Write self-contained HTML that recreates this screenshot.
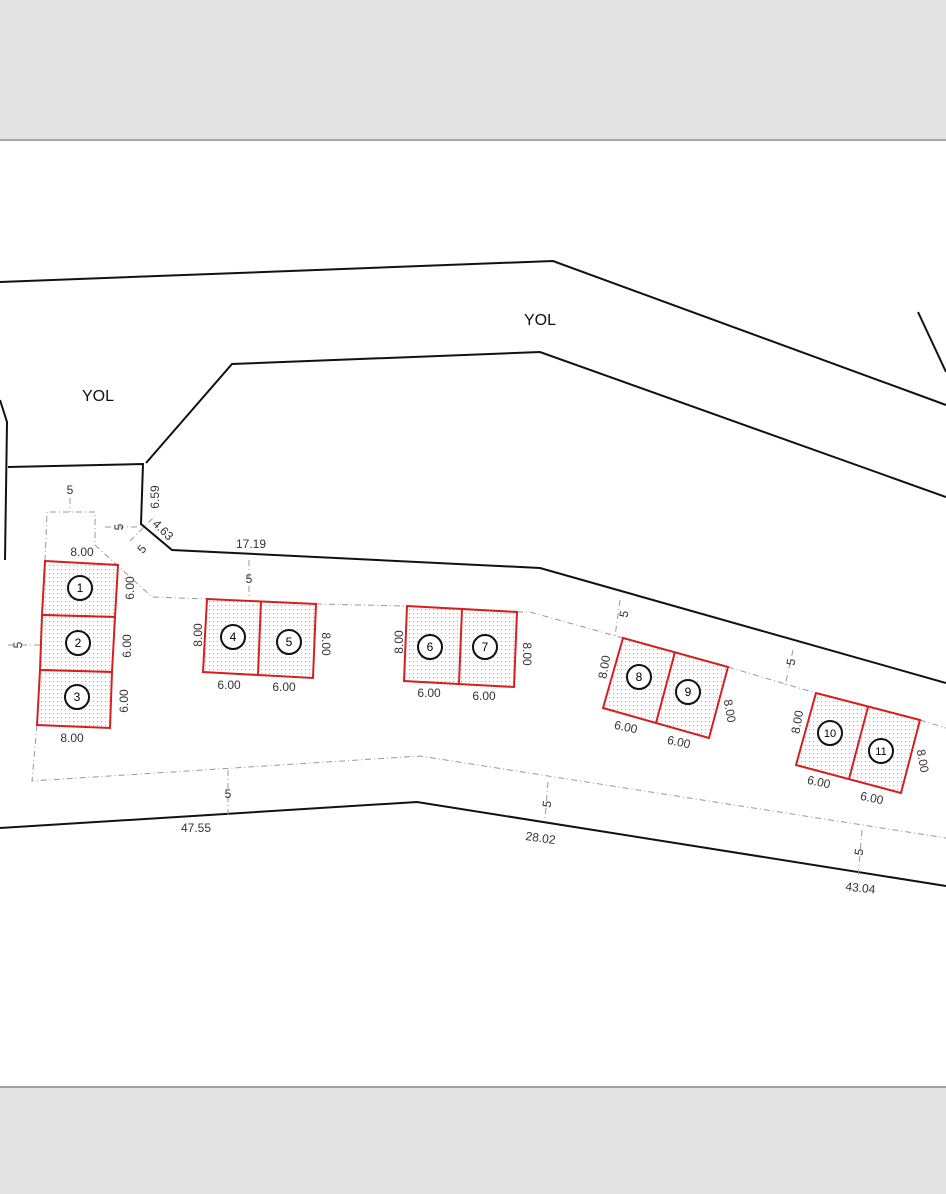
<!DOCTYPE html>
<html><head><meta charset="utf-8"><style>
html,body{margin:0;padding:0;background:#fff}
svg{display:block}
text{font-family:"Liberation Sans",sans-serif;fill:#333}
</style></head><body>
<svg width="946" height="1194" viewBox="0 0 946 1194" xmlns="http://www.w3.org/2000/svg">
<defs>
<pattern id="dots" width="4" height="4" patternUnits="userSpaceOnUse">
<rect width="4" height="4" fill="#fff"/>
<rect x="1" y="1" width="1" height="1" fill="#aaa"/>
</pattern>
</defs>
<rect x="0" y="0" width="946" height="140" fill="#e3e3e3"/>
<rect x="0" y="139" width="946" height="2" fill="#a8a8a8"/>
<rect x="0" y="1087" width="946" height="107" fill="#e3e3e3"/>
<rect x="0" y="1086" width="946" height="2" fill="#a0a0a0"/>

<g fill="none" stroke="#111" stroke-width="2">
<polyline points="0,282 553,261 946,405"/>
<polyline points="146,463 232,364 540,352 946,497"/>
<polyline points="0,400 7,422 5,560"/>
<polyline points="8,467 143,464 141,524 172,550 540,568 946,683"/>
<polyline points="0,828 417,802 946,886"/>
<polyline points="918,312 946,372"/>
</g>

<g fill="none" stroke="#999" stroke-width="1" stroke-dasharray="6,3,1,3">
<polyline points="45,561 47,512 95,512 95,545 152,597 207,599"/>
<line x1="316" y1="604" x2="407" y2="606"/>
<polyline points="517,612 530,612 623,638"/>
<line x1="728" y1="667" x2="816" y2="693"/>
<line x1="920" y1="720" x2="946" y2="728"/>
<polyline points="37,725 32,781 420,756 946,838"/>
<line x1="130" y1="541" x2="155" y2="516"/>
<line x1="105" y1="527" x2="140" y2="527"/>
<line x1="70" y1="498" x2="70" y2="512"/>
<line x1="249" y1="560" x2="249" y2="598"/>
<line x1="228" y1="770" x2="228" y2="815"/>
<line x1="548" y1="782" x2="545" y2="820"/>
<line x1="620" y1="600" x2="615" y2="636"/>
<line x1="793" y1="650" x2="785" y2="686"/>
<line x1="862" y1="830" x2="858" y2="878"/>
<line x1="8" y1="645" x2="40" y2="645"/>
</g>

<g fill="url(#dots)" stroke="#d42020" stroke-width="2">
<polygon points="45,561 118,565 115,617 42,615"/>
<polygon points="42,615 115,617 112,672 40,670"/>
<polygon points="40,670 112,672 110,728 37,725"/>
<polygon points="207,599 316,604 313,678 203,672"/>
<polygon points="407,606 517,612 514,687 404,681"/>
<polygon points="623,638 728,667 709,738 603,708"/>
<polygon points="816,693 920,720 901,793 796,765"/>
</g>
<g stroke="#d42020" stroke-width="2">
<line x1="261" y1="601" x2="258" y2="675"/>
<line x1="462" y1="609" x2="459" y2="684"/>
<line x1="675" y1="652" x2="656" y2="723"/>
<line x1="868" y1="707" x2="849" y2="779"/>
</g>

<g fill="#fff" stroke="#111" stroke-width="2">
<circle cx="80" cy="588" r="12"/><circle cx="78" cy="643" r="12"/><circle cx="77" cy="697" r="12"/>
<circle cx="233" cy="637" r="12"/><circle cx="289" cy="642" r="12"/>
<circle cx="430" cy="647" r="12"/><circle cx="485" cy="647" r="12"/>
<circle cx="639" cy="677" r="12"/><circle cx="688" cy="692" r="12"/>
<circle cx="830" cy="733" r="12"/><circle cx="881" cy="751" r="12"/>
</g>
<g font-size="12" text-anchor="middle" style="fill:#000">
<text x="80" y="592" style="fill:#000">1</text><text x="78" y="647" style="fill:#000">2</text><text x="77" y="701" style="fill:#000">3</text>
<text x="233" y="641" style="fill:#000">4</text><text x="289" y="646" style="fill:#000">5</text>
<text x="430" y="651" style="fill:#000">6</text><text x="485" y="651" style="fill:#000">7</text>
<text x="639" y="681" style="fill:#000">8</text><text x="688" y="696" style="fill:#000">9</text>
<text x="830" y="737" font-size="11" style="fill:#000">10</text><text x="881" y="755" font-size="11" style="fill:#000">11</text>
</g>

<g font-size="16" text-anchor="middle">
<text x="98" y="401" style="fill:#111">YOL</text>
<text x="540" y="325" style="fill:#111">YOL</text>
</g>

<g font-size="12" text-anchor="middle">
<text x="70" y="494">5</text>
<text x="82" y="556">8.00</text>
<text x="72" y="742">8.00</text>
<text x="251" y="548">17.19</text>
<text x="249" y="583">5</text>
<text x="229" y="689">6.00</text>
<text x="284" y="691">6.00</text>
<text x="429" y="697">6.00</text>
<text x="484" y="700">6.00</text>
<text x="228" y="798">5</text>
<text x="196" y="832">47.55</text>
<text x="540" y="842" transform="rotate(8 540 842)">28.02</text>
<text x="860" y="892" transform="rotate(6 860 892)">43.04</text>
<text x="625" y="731" transform="rotate(12 625 731)">6.00</text>
<text x="678" y="746" transform="rotate(12 678 746)">6.00</text>
<text x="818" y="786" transform="rotate(12 818 786)">6.00</text>
<text x="871" y="802" transform="rotate(12 871 802)">6.00</text>
<text x="150" y="496" transform="rotate(-90 155 492)">6.59</text>
<text x="163" y="534" transform="rotate(45 163 530)">4.63</text>
<text x="119" y="531" transform="rotate(-90 119 527)">5</text>
<text x="142" y="553" transform="rotate(-50 142 549)">5</text>
<text x="18" y="649" transform="rotate(-90 18 645)">5</text>
<text x="130" y="592" transform="rotate(-90 130 588)">6.00</text>
<text x="127" y="650" transform="rotate(-90 127 646)">6.00</text>
<text x="124" y="705" transform="rotate(-90 124 701)">6.00</text>
<text x="198" y="639" transform="rotate(-90 198 635)">8.00</text>
<text x="330" y="644" transform="rotate(90 326 640)">8.00</text>
<text x="399" y="646" transform="rotate(-90 399 642)">8.00</text>
<text x="531" y="654" transform="rotate(90 527 650)">8.00</text>
<text x="606" y="673" transform="rotate(-80 604 669)">8.00</text>
<text x="733" y="711" transform="rotate(80 729 707)">8.00</text>
<text x="799" y="728" transform="rotate(-80 797 724)">8.00</text>
<text x="926" y="761" transform="rotate(80 922 757)">8.00</text>
<text x="547" y="808" transform="rotate(-80 547 804)">5</text>
<text x="624" y="618" transform="rotate(-80 624 614)">5</text>
<text x="791" y="666" transform="rotate(-80 791 662)">5</text>
<text x="859" y="856" transform="rotate(-80 859 852)">5</text>
</g>
</svg>
</body></html>
